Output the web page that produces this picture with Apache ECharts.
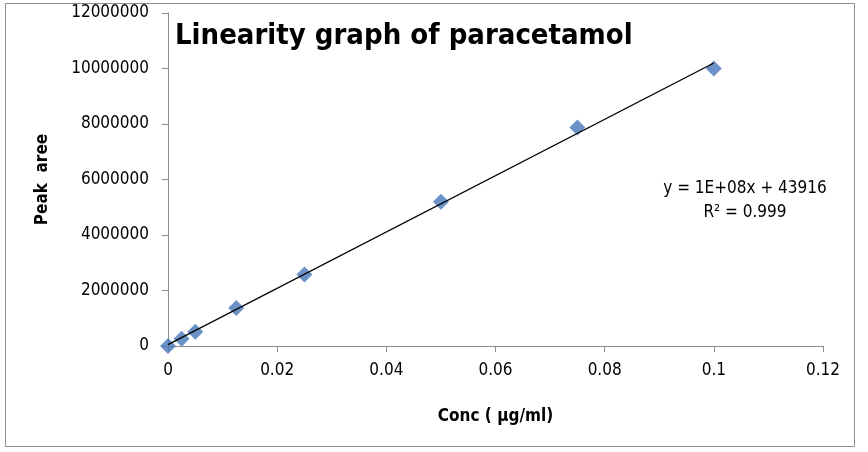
<!DOCTYPE html>
<html>
<head>
<meta charset="utf-8">
<script src="https://cdn.jsdelivr.net/npm/echarts@6/dist/echarts.min.js"></script>
<style>
  html, body { margin: 0; padding: 0; background: #fff; }
  #main { width: 868px; height: 452px; }
</style>
</head>
<body>
<div id="main"></div>
<script>
// concentration (ug/ml) and peak area
var conc = [0, 0.0025, 0.005, 0.0125, 0.025, 0.05, 0.075, 0.1];
var peakArea = [0, 260000, 510000, 1370000, 2580000, 5200000, 7870000, 10000000];
var eqText = ['y = 1E+08x + 43916', 'R\u00b2 = 0.999'];

// least squares trendline from the data
function fitLine(xs, ys) {
    var n = xs.length, sx = 0, sy = 0, sxx = 0, sxy = 0;
    for (var i = 0; i < n; i++) {
        sx += xs[i]; sy += ys[i]; sxx += xs[i] * xs[i]; sxy += xs[i] * ys[i];
    }
    var b = (n * sxy - sx * sy) / (n * sxx - sx * sx);
    var a = (sy - b * sx) / n;
    return { a: a, b: b };
}
var fit = fitLine(conc, peakArea);
var xMin = Math.min.apply(null, conc), xMax = Math.max.apply(null, conc);
var trend = [[xMin, fit.a + fit.b * xMin], [xMax, fit.a + fit.b * xMax]];

var points = conc.map(function (c, i) { return [c, peakArea[i]]; });

var myChart = echarts.init(document.getElementById('main'));
var tickFont = { fontFamily: 'DejaVu Sans Condensed', fontSize: 17, color: '#000' };

var option = {
    animation: false,
    grid: { left: 168, right: 45, top: 13, bottom: 106 },
    graphic: [
        { type: 'rect', shape: { x: 5.5, y: 3.5, width: 849, height: 443 },
          style: { fill: 'none', stroke: '#8c8c8c', lineWidth: 1 } },
        { type: 'text', left: 175, top: 22,
          style: { text: 'Linearity graph of paracetamol', fontFamily: 'DejaVu Sans Condensed',
                   fontWeight: 'bold', fontSize: 29, fill: '#000' } },
        { type: 'text', x: 745, y: 201,
          style: { text: eqText.join('\n'), align: 'center', verticalAlign: 'middle', lineHeight: 24,
                   fontFamily: 'DejaVu Sans Condensed', fontSize: 17, fill: '#000' } }
    ],
    xAxis: {
        type: 'value', min: 0, max: 0.12, interval: 0.02,
        name: 'Conc ( \u03bcg/ml)', nameLocation: 'middle', nameGap: 62,
        nameTextStyle: { fontFamily: 'DejaVu Sans Condensed', fontWeight: 'bold', fontSize: 17, color: '#000' },
        axisLine: { lineStyle: { color: '#8c8c8c' } },
        axisTick: { lineStyle: { color: '#8c8c8c' }, length: 6 },
        splitLine: { show: false },
        axisLabel: Object.assign({ margin: 16 }, tickFont)
    },
    yAxis: {
        type: 'value', min: 0, max: 12000000, interval: 2000000,
        name: 'Peak  aree', nameLocation: 'middle', nameGap: 117,
        nameTextStyle: { fontFamily: 'DejaVu Sans Condensed', fontWeight: 'bold', fontSize: 17, color: '#000' },
        axisLine: { show: true, lineStyle: { color: '#8c8c8c' } },
        axisTick: { show: true, lineStyle: { color: '#8c8c8c' }, length: 6 },
        splitLine: { show: false },
        axisLabel: Object.assign({ margin: 19, formatter: function (v) { return String(v); } }, tickFont)
    },
    series: [
        {
            type: 'line', data: trend, symbol: 'none',
            lineStyle: { color: '#000', width: 1.3 }, z: 3
        },
        {
            type: 'scatter', data: points, symbol: 'diamond', symbolSize: 16,
            itemStyle: { color: '#4677b8' }, z: 2
        }
    ]
};
myChart.setOption(option);
</script>
</body>
</html>
